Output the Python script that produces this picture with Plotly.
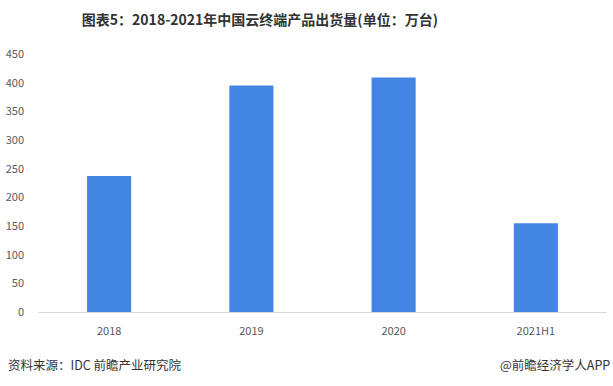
import plotly.graph_objects as go

categories = ["2018", "2019", "2020", "2021H1"]
shipments = [237, 395, 409, 155]
y_ticks = [0, 50, 100, 150, 200, 250, 300, 350, 400, 450]

FONT = "Noto Sans CJK SC, Microsoft YaHei, sans-serif"

fig = go.Figure()
fig.add_trace(go.Bar(
    x=categories, y=shipments,
    marker=dict(color="#4285E2", line=dict(width=0)),
    width=0.31,
))

fig.update_layout(
    width=613, height=386,
    margin=dict(l=38, r=6, t=54, b=74),
    paper_bgcolor="white", plot_bgcolor="white",
    showlegend=False,
    font=dict(family=FONT, color="#595959", size=11),
    title=dict(
        text="<b>图表5：2018-2021年中国云终端产品出货量(单位：万台)</b>",
        x=0.424, xanchor="center", y=0.948, yanchor="middle",
        font=dict(family=FONT, size=14, color="#333333"),
    ),
    xaxis=dict(
        showgrid=False, showline=True, linecolor="#D9D9D9", linewidth=1,
        ticks="", ticklabelstandoff=9, automargin=False,
        tickfont=dict(size=11, color="#595959"),
    ),
    yaxis=dict(
        range=[0, 450], tickvals=y_ticks, showgrid=False, zeroline=False,
        showline=False, ticks="", ticklabelstandoff=13, automargin=False,
        tickfont=dict(size=11, color="#595959"),
    ),
    annotations=[
        dict(text="资料来源：IDC 前瞻产业研究院", xref="paper", yref="paper",
             x=-0.056, y=-0.205, xanchor="left", yanchor="middle", showarrow=False,
             font=dict(family=FONT, size=12.5, color="#333333")),
        dict(text="@前瞻经济学人APP", xref="paper", yref="paper",
             x=1.009, y=-0.205, xanchor="right", yanchor="middle", showarrow=False,
             font=dict(family=FONT, size=12.5, color="#333333")),
    ],
)

fig.write_html(
    "out.html",
    config={"displayModeBar": False},
    post_script="document.body.style.margin='0';document.body.style.overflow='hidden';",
)
